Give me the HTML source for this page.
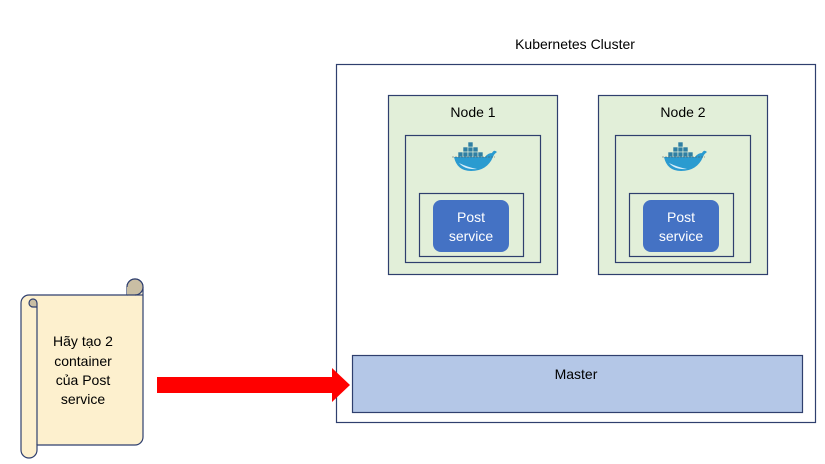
<!DOCTYPE html>
<html><head><meta charset="utf-8"><style>
html,body{margin:0;padding:0;background:#fff;}
svg{display:block;font-family:"Liberation Sans","DejaVu Sans",sans-serif;}
</style></head><body>
<svg width="825" height="464" viewBox="0 0 825 464" xmlns="http://www.w3.org/2000/svg">
<defs>
<g id="dock">
  <g fill="#2f7fa3" stroke="#e2efd9" stroke-width="0.6">
    <rect x="-10" y="-12" width="5" height="5"/><rect x="-5" y="-12" width="5" height="5"/><rect x="0" y="-12" width="5" height="5"/>
    <rect x="-15" y="-7" width="5" height="5"/><rect x="-10" y="-7" width="5" height="5"/><rect x="-5" y="-7" width="5" height="5"/><rect x="0" y="-7" width="5" height="5"/><rect x="5" y="-7" width="5" height="5"/>
    <rect x="-5" y="-17" width="5" height="5"/>
  </g>
  <path d="M-19,-2 L12,-2 Q15,-6 19,-6 Q21,-10 24,-7 Q21,-5 20,-2 Q14,12 -2,12 Q-16,12 -19,-2 Z" fill="#2a9bd0"/>
  <path d="M-14,4 Q-8,11 4,10 Q-6,8 -14,4 Z" fill="#d7eef8"/>
  <line x1="-21" y1="-2" x2="22" y2="-2" stroke="#555" stroke-width="0.6" stroke-dasharray="2,1"/>
</g>
</defs>
<text x="575" y="49" font-size="14" text-anchor="middle" fill="#000">Kubernetes Cluster</text>
<rect x="336.5" y="64.5" width="479" height="358" fill="#fff" stroke="#2f3f6e" stroke-width="1.2"/>

<rect x="388.5" y="95.5" width="169" height="179" fill="#e2efd9" stroke="#2f3f6e" stroke-width="1.2"/>
<text x="473" y="117" font-size="14" text-anchor="middle">Node 1</text>
<rect x="405.5" y="135.5" width="135" height="127" fill="none" stroke="#2f3f6e" stroke-width="1.2"/>
<use href="#dock" x="473" y="159"/>
<rect x="419.5" y="193.5" width="104" height="63" fill="none" stroke="#2f3f6e" stroke-width="1.2"/>
<rect x="433" y="200" width="76" height="52" rx="8" fill="#4472c4"/>
<text x="471" y="222" font-size="14" fill="#fff" text-anchor="middle">Post</text>
<text x="471" y="241" font-size="14" fill="#fff" text-anchor="middle">service</text>

<rect x="598.5" y="95.5" width="169" height="179" fill="#e2efd9" stroke="#2f3f6e" stroke-width="1.2"/>
<text x="683" y="117" font-size="14" text-anchor="middle">Node 2</text>
<rect x="615.5" y="135.5" width="135" height="127" fill="none" stroke="#2f3f6e" stroke-width="1.2"/>
<use href="#dock" x="683" y="159"/>
<rect x="629.5" y="193.5" width="104" height="63" fill="none" stroke="#2f3f6e" stroke-width="1.2"/>
<rect x="643" y="200" width="76" height="52" rx="8" fill="#4472c4"/>
<text x="681" y="222" font-size="14" fill="#fff" text-anchor="middle">Post</text>
<text x="681" y="241" font-size="14" fill="#fff" text-anchor="middle">service</text>

<rect x="352.5" y="355.5" width="450" height="57" fill="#b4c7e7" stroke="#2f3f6e" stroke-width="1.2"/>
<text x="576" y="379" font-size="14" text-anchor="middle">Master</text>

<polygon points="157,377 332,377 332,368 350,385 332,402 332,393 157,393" fill="#ff0000"/>

<!-- scroll -->
<path d="M30,295 L127,295 L127,287 A8,8 0 0 1 143,287 L143,437 A8,8 0 0 1 135,445 L37,445 L37,450 A8,8 0 0 1 21,450 L21,303 A8,8 0 0 1 29,295 Z" fill="#fdf0ce" stroke="#2f3f6e" stroke-width="1.2"/>
<path d="M127,295 L135,295 A8,8 0 0 0 135,279 A8,8 0 0 0 127,287" fill="#c9bea4" stroke="#2f3f6e" stroke-width="1.2"/>
<path d="M37,303 A4,4 0 0 0 29,303 A4,4 0 0 0 33,307 L37,307" fill="#c9bea4" stroke="#2f3f6e" stroke-width="1.2"/>
<line x1="37" y1="303" x2="37" y2="445" stroke="#2f3f6e" stroke-width="1.2"/>
<line x1="135" y1="295" x2="143" y2="295" stroke="#2f3f6e" stroke-width="1.2"/>
<text x="83" y="346" font-size="14" text-anchor="middle">Hãy tạo 2</text>
<text x="83" y="366" font-size="14" text-anchor="middle">container</text>
<text x="83" y="385" font-size="14" text-anchor="middle">của Post</text>
<text x="83" y="404" font-size="14" text-anchor="middle">service</text>
</svg>
</body></html>
